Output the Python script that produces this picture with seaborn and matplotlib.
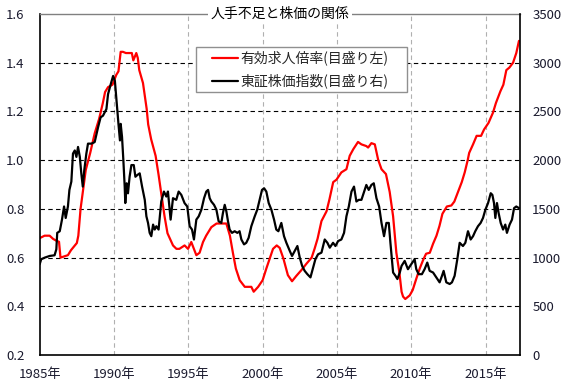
import matplotlib
matplotlib.use("Agg")
import matplotlib.pyplot as plt
from matplotlib.lines import Line2D
from matplotlib.patches import Rectangle
import seaborn as sns
import pandas as pd

sns.set_style("white")
plt.rcParams["font.family"] = ["Noto Sans CJK JP", "DejaVu Sans"]

# 有効求人倍率 (left axis)
ratio_years = [
    1985.0, 1985.33, 1985.67, 1985.9, 1986.1, 1986.3, 1986.4, 1986.9, 1987.1, 1987.5,
    1987.6, 1987.75, 1987.9, 1988.1, 1988.4, 1988.7, 1989.0, 1989.25, 1989.4, 1989.6,
    1989.9, 1990.15, 1990.3, 1990.45, 1990.6, 1990.8, 1991.2, 1991.3, 1991.5, 1991.6,
    1991.7, 1991.95, 1992.2, 1992.3, 1992.5, 1992.8, 1993.0, 1993.2, 1993.4, 1993.6,
    1993.97, 1994.2, 1994.4, 1994.75, 1994.98, 1995.2, 1995.54, 1995.76, 1995.99, 1996.2,
    1996.55, 1996.9, 1997.2, 1997.56, 1997.8, 1998.0, 1998.2, 1998.46, 1998.8, 1999.0,
    1999.24, 1999.4, 1999.7, 2000.0, 2000.25, 2000.5, 2000.7, 2000.95, 2001.15, 2001.4,
    2001.7, 2001.98, 2002.27, 2002.6, 2002.95, 2003.3, 2003.5, 2003.7, 2003.96, 2004.3,
    2004.5, 2004.75, 2004.97, 2005.3, 2005.64, 2005.86, 2006.1, 2006.42, 2006.65, 2006.98,
    2007.1, 2007.32, 2007.55, 2007.77, 2008.0, 2008.3, 2008.55, 2008.78, 2009.0, 2009.2,
    2009.35, 2009.45, 2009.6, 2009.9, 2010.1, 2010.35, 2010.57, 2010.8, 2011.0, 2011.25,
    2011.47, 2011.7, 2011.9, 2012.1, 2012.4, 2012.7, 2012.9, 2013.15, 2013.4, 2013.6,
    2013.8, 2013.9, 2014.16, 2014.4, 2014.7, 2014.9, 2015.2, 2015.5, 2015.7, 2016.0,
    2016.2, 2016.4, 2016.6, 2016.85, 2017.07, 2017.25,
]
ratio_values = [
    0.68, 0.69, 0.69, 0.677, 0.67, 0.665, 0.60, 0.61, 0.63, 0.66,
    0.69, 0.80, 0.87, 0.96, 1.03, 1.11, 1.17, 1.235, 1.28, 1.30,
    1.31, 1.35, 1.365, 1.445, 1.445, 1.44, 1.44, 1.41, 1.44, 1.42,
    1.37, 1.317, 1.21, 1.147, 1.086, 1.018, 0.94, 0.855, 0.77, 0.70,
    0.65, 0.636, 0.636, 0.65, 0.636, 0.664, 0.61, 0.62, 0.664, 0.69,
    0.725, 0.74, 0.74, 0.74, 0.69, 0.62, 0.555, 0.507, 0.48, 0.48,
    0.48, 0.46, 0.48, 0.507, 0.555, 0.60, 0.636, 0.65, 0.64, 0.596,
    0.528, 0.503, 0.525, 0.548, 0.575, 0.60, 0.637, 0.678, 0.75, 0.79,
    0.84, 0.91, 0.92, 0.95, 0.963, 1.018, 1.045, 1.075, 1.065, 1.058,
    1.052, 1.07, 1.065, 1.003, 0.963, 0.943, 0.87, 0.77, 0.62, 0.54,
    0.46, 0.44, 0.43, 0.445, 0.467, 0.515, 0.555, 0.59, 0.616, 0.62,
    0.657, 0.69, 0.73, 0.78, 0.81, 0.814, 0.83, 0.87, 0.91, 0.95,
    1.0, 1.03, 1.065, 1.10, 1.10, 1.126, 1.153, 1.195, 1.235, 1.283,
    1.31, 1.37, 1.38, 1.40, 1.44, 1.49,
]

# 東証株価指数 (right axis)
topix_years = [
    1985.0, 1985.1, 1985.34, 1985.67, 1986.0, 1986.12, 1986.18, 1986.35, 1986.5, 1986.64,
    1986.75, 1986.9, 1987.0, 1987.13, 1987.24, 1987.36, 1987.47, 1987.58, 1987.7, 1987.8,
    1987.9, 1988.0, 1988.14, 1988.25, 1988.48, 1988.7, 1988.93, 1989.1, 1989.26, 1989.49,
    1989.6, 1989.78, 1989.94, 1990.06, 1990.17, 1990.3, 1990.4, 1990.45, 1990.54, 1990.63,
    1990.72, 1990.76, 1990.85, 1990.94, 1991.05, 1991.17, 1991.33, 1991.44, 1991.57, 1991.73,
    1991.89, 1992.07, 1992.18, 1992.29, 1992.4, 1992.51, 1992.63, 1992.74, 1992.85, 1993.0,
    1993.18, 1993.36, 1993.52, 1993.63, 1993.81, 1993.97, 1994.19, 1994.35, 1994.53, 1994.75,
    1994.93, 1995.09, 1995.25, 1995.38, 1995.54, 1995.7, 1995.88, 1996.06, 1996.21, 1996.33,
    1996.44, 1996.55, 1996.73, 1996.89, 1997.04, 1997.22, 1997.33, 1997.45, 1997.56, 1997.67,
    1997.78, 1997.94, 1998.12, 1998.3, 1998.45, 1998.57, 1998.75, 1998.9, 1999.06, 1999.24,
    1999.47, 1999.64, 1999.8, 1999.96, 2000.1, 2000.25, 2000.41, 2000.59, 2000.77, 2000.92,
    2001.06, 2001.26, 2001.44, 2001.6, 2001.83, 2001.98, 2002.16, 2002.34, 2002.5, 2002.66,
    2002.83, 2003.01, 2003.22, 2003.4, 2003.55, 2003.73, 2003.96, 2004.18, 2004.36, 2004.52,
    2004.74, 2004.9, 2005.08, 2005.3, 2005.48, 2005.64, 2005.8, 2005.98, 2006.15, 2006.31,
    2006.47, 2006.65, 2006.83, 2006.98, 2007.14, 2007.32, 2007.48, 2007.66, 2007.84, 2008.0,
    2008.17, 2008.33, 2008.49, 2008.6, 2008.78, 2008.94, 2009.07, 2009.23, 2009.35, 2009.56,
    2009.78, 2010.0, 2010.23, 2010.34, 2010.5, 2010.72, 2010.9, 2011.08, 2011.24, 2011.47,
    2011.69, 2011.91, 2012.07, 2012.18, 2012.36, 2012.59, 2012.74, 2012.92, 2013.1, 2013.26,
    2013.48, 2013.64, 2013.82, 2014.0, 2014.16, 2014.31, 2014.49, 2014.67, 2014.83, 2014.99,
    2015.17, 2015.35, 2015.46, 2015.57, 2015.66, 2015.77, 2015.88, 2016.02, 2016.18, 2016.33,
    2016.44, 2016.62, 2016.78, 2016.92, 2017.07, 2017.25,
]
topix_values = [
    932, 983, 1000, 1017, 1024, 1085, 1254, 1271, 1390, 1525,
    1407, 1525, 1695, 1780, 2068, 2100, 2034, 2136, 2034, 1865,
    1729, 1898, 2068, 2170, 2170, 2186, 2339, 2440, 2457, 2525,
    2678, 2780, 2865, 2814, 2610, 2373, 2203, 2373, 2240, 2000,
    1729, 1560, 1763, 1660, 1830, 1950, 1950, 1830, 1848, 1865,
    1729, 1593, 1424, 1356, 1254, 1220, 1339, 1288, 1322, 1288,
    1576, 1678, 1627, 1678, 1390, 1610, 1593, 1678, 1644, 1559,
    1525, 1322, 1288, 1186, 1390, 1424, 1492, 1610, 1678, 1695,
    1610, 1576, 1542, 1492, 1373, 1356, 1458, 1542, 1475, 1373,
    1288, 1254, 1271, 1254, 1271, 1186, 1136, 1152, 1203, 1322,
    1424, 1492, 1593, 1695, 1712, 1678, 1560, 1492, 1390, 1288,
    1271, 1356, 1220, 1152, 1068, 1017, 1068, 1119, 1000, 915,
    864, 830, 797, 898, 983, 1034, 1051, 1186, 1152, 1102,
    1152, 1119, 1170, 1186, 1254, 1424, 1525, 1678, 1729, 1576,
    1593, 1593, 1678, 1746, 1695, 1746, 1763, 1610, 1525, 1356,
    1220, 1356, 1356, 1152, 847, 813, 780, 847, 915, 966,
    881, 932, 983, 881, 830, 830, 881, 949, 864, 847,
    797, 746, 813, 864, 746, 729, 746, 813, 983, 1152,
    1119, 1152, 1271, 1186, 1220, 1271, 1322, 1356, 1407, 1492,
    1560, 1661, 1644, 1560, 1407, 1560, 1458, 1356, 1288, 1339,
    1254, 1339, 1390, 1508, 1525, 1508,
]

x_ticks = [1985, 1990, 1995, 2000, 2005, 2010, 2015]
x_tick_labels = [f"{y}年" for y in x_ticks]
left_ticks = [0.2, 0.4, 0.6, 0.8, 1.0, 1.2, 1.4, 1.6]
right_ticks = [0, 500, 1000, 1500, 2000, 2500, 3000, 3500]

title = "人手不足と株価の関係"
label_ratio = "有効求人倍率(目盛り左)"
label_topix = "東証株価指数(目盛り右)"

ratio_df = pd.DataFrame({"year": ratio_years, "value": ratio_values})
topix_df = pd.DataFrame({"year": topix_years, "value": topix_values})

fig = plt.figure(figsize=(5.67, 3.91), dpi=100)
ax = fig.add_axes([0.070, 0.092, 0.8466, 0.872])
ax2 = ax.twinx()

sns.lineplot(data=ratio_df, x="year", y="value", ax=ax, color="#ff0000",
             linewidth=1.6, estimator=None)
sns.lineplot(data=topix_df, x="year", y="value", ax=ax2, color="black",
             linewidth=1.6, estimator=None)

tick_color = "#1a1a2e"
ax.set_xlim(1985, 2017.3)
ax.set_ylim(0.2, 1.6)
ax2.set_ylim(0, 3500)
ax.set_xticks(x_ticks)
ax.set_xticklabels(x_tick_labels)
ax.set_yticks(left_ticks)
ax.set_yticklabels([f"{v:.1f}" for v in left_ticks])
ax2.set_yticks(right_ticks)
ax2.set_yticklabels([str(v) for v in right_ticks])
ax.set_xlabel("")
ax.set_ylabel("")
ax2.set_ylabel("")

ax.tick_params(axis="x", direction="in", length=4, width=1, pad=9,
               labelsize=9.5, colors=tick_color)
ax.tick_params(axis="x", color="black")
ax.tick_params(axis="y", length=0, pad=11, labelsize=9.5, colors=tick_color)
ax2.tick_params(axis="y", length=0, pad=9, labelsize=9.5, colors=tick_color)

# grid lines
ax.yaxis.grid(True, color="black", linestyle=(0, (4, 3)), linewidth=0.8)
ax.xaxis.grid(True, color="#b0b0b0", linestyle=(0, (4, 3)), linewidth=0.8)
ygl = ax.get_ygridlines()
ygl[0].set_visible(False)
ygl[-1].set_visible(False)
ax.get_xgridlines()[0].set_visible(False)

for side in ["left", "bottom"]:
    ax.spines[side].set_color("black")
    ax.spines[side].set_linewidth(1.2)
ax.spines["top"].set_color("#808080")
ax.spines["top"].set_linewidth(1.0)
ax.spines["right"].set_visible(False)
ax2.spines["right"].set_color("black")
ax2.spines["right"].set_linewidth(1.2)
for side in ["left", "bottom", "top"]:
    ax2.spines[side].set_visible(False)

ax2.text(0.5, 1.0, title, transform=ax2.transAxes, ha="center", va="center",
         fontsize=10, color="black", zorder=10,
         bbox=dict(facecolor="white", edgecolor="none", pad=2))

# legend box (white, grey border) with the legend entries inside
ax2.add_patch(Rectangle((0.3256, 0.7713), 0.439, 0.1319, transform=ax2.transAxes,
                        facecolor="white", edgecolor="#909090", linewidth=1.0,
                        zorder=8))
handles = [
    Line2D([0], [0], color="#ff0000", linewidth=1.6),
    Line2D([0], [0], color="black", linewidth=1.6),
]
leg = ax2.legend(handles, [label_ratio, label_topix], loc="upper left",
                 bbox_to_anchor=(0.3583, 0.893), borderaxespad=0,
                 fontsize=10, frameon=False, handlelength=1.87,
                 handletextpad=0.2, labelspacing=0.6, borderpad=0)
leg.set_zorder(9)

fig.savefig("out.png", dpi=100)
